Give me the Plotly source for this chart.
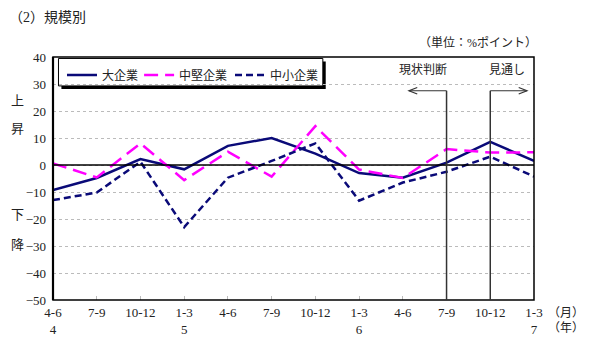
import plotly.graph_objects as go

periods = ["4-6", "7-9", "10-12", "1-3", "4-6", "7-9", "10-12", "1-3", "4-6", "7-9", "10-12", "1-3"]
years = ["4", "", "", "5", "", "", "", "6", "", "", "", "7"]
large = [-9.3, -4.8, 2.2, -1.6, 7.1, 10.0, 4.2, -3.0, -4.7, 0.9, 8.6, 1.5]
midsize = [0.6, -4.6, 8.0, -5.6, 4.9, -4.3, 14.4, -1.7, -4.8, 5.9, 4.6, 4.7]
small = [-13.0, -10.2, 1.2, -23.0, -4.7, 1.5, 8.0, -13.2, -6.5, -2.5, 3.1, -4.3]
series_names = ["大企業", "中堅企業", "中小企業"]

FONT = "Liberation Serif, Noto Sans CJK JP"
NUMFONT = "Liberation Serif"
x = list(range(len(periods)))
ticktext = [p + "<br>" + y if y else p for p, y in zip(periods, years)]

fig = go.Figure()
fig.add_trace(go.Scatter(x=x, y=large, mode="lines", name=series_names[0], legend="legend",
                         line=dict(color="#0a0a78", width=2.5)))
fig.add_trace(go.Scatter(x=x, y=midsize, mode="lines", name=series_names[1], legend="legend2",
                         line=dict(color="#ff00ff", width=2.5, dash="14px,7px")))
fig.add_trace(go.Scatter(x=x, y=small, mode="lines", name=series_names[2], legend="legend3",
                         line=dict(color="#0a0a78", width=2.5, dash="7px,4px")))

shapes = []
shapes.append(dict(type="line", xref="x", yref="y", x0=0, x1=11, y0=0, y1=0,
                   line=dict(color="black", width=1.5), layer="above"))
shapes.append(dict(type="rect", xref="paper", yref="paper", x0=0, x1=1, y0=0, y1=1,
                   line=dict(color="black", width=1.5)))
shapes.append(dict(type="line", xref="paper", yref="paper", x0=0, x1=0, y0=0, y1=1,
                   line=dict(color="black", width=2.2)))
for xi in (9, 10):
    shapes.append(dict(type="line", xref="x", yref="y", x0=xi, x1=xi, y0=-50, y1=27.5,
                       line=dict(color="#333333", width=1.5), layer="above"))
ay = 27.5
shapes.append(dict(type="line", xref="x", yref="y", x0=9, x1=8.14, y0=ay, y1=ay,
                   line=dict(color="#333333", width=1.2)))
shapes.append(dict(type="path", xref="x", yref="y",
                   path=f"M 8.33 {ay+1.2} L 8.14 {ay} L 8.33 {ay-1.2}",
                   line=dict(color="#333333", width=1.2)))
shapes.append(dict(type="line", xref="x", yref="y", x0=10, x1=10.84, y0=ay, y1=ay,
                   line=dict(color="#333333", width=1.2)))
shapes.append(dict(type="path", xref="x", yref="y",
                   path=f"M 10.65 {ay+1.2} L 10.84 {ay} L 10.65 {ay-1.2}",
                   line=dict(color="#333333", width=1.2)))
# legend box with shadow
shapes.append(dict(type="rect", xref="paper", yref="paper", x0=0.0175, x1=0.567, y0=0.868, y1=0.981,
                   fillcolor="black", line=dict(width=0), layer="below"))
shapes.append(dict(type="rect", xref="paper", yref="paper", x0=0.0114, x1=0.561, y0=0.881, y1=0.994,
                   fillcolor="white", line=dict(color="black", width=1), layer="below"))

annotations = [
    dict(text="（2）規模別", xref="paper", yref="paper", x=-0.095, y=1.163, xanchor="left", yanchor="middle",
         showarrow=False, font=dict(size=14, family=FONT, color="#222")),
    dict(text="（単位：%ポイント）", xref="paper", yref="paper", x=1.01, y=1.058, xanchor="right", yanchor="middle",
         showarrow=False, font=dict(size=12, family=FONT, color="#222")),
    dict(text="現状判断", xref="x", yref="y", x=8.46, y=35.2, xanchor="center", yanchor="middle",
         showarrow=False, font=dict(size=12, family=FONT, color="#222")),
    dict(text="見通し", xref="x", yref="y", x=10.38, y=35.2, xanchor="center", yanchor="middle",
         showarrow=False, font=dict(size=12, family=FONT, color="#222")),
    dict(text="（月）", xref="paper", yref="paper", x=1.025, y=-0.053, xanchor="left", yanchor="middle",
         showarrow=False, font=dict(size=12, family=FONT, color="#222")),
    dict(text="（年）", xref="paper", yref="paper", x=1.025, y=-0.115, xanchor="left", yanchor="middle",
         showarrow=False, font=dict(size=12, family=FONT, color="#222")),
]
for ch, yv in (("上", 24.0), ("昇", 13.7), ("下", -18.5), ("降", -29.6)):
    annotations.append(dict(text=ch, xref="paper", yref="y", x=-0.073, y=yv, xanchor="center",
                            yanchor="middle", showarrow=False,
                            font=dict(size=13, family=FONT, color="#222")))

def leg(xp):
    return dict(orientation="h", x=xp, y=0.986, xanchor="left", yanchor="top",
                bgcolor="rgba(0,0,0,0)", borderwidth=0, font=dict(size=12, family=FONT))

fig.update_layout(
    width=591, height=357,
    margin=dict(l=53, r=57, t=57, b=57),
    paper_bgcolor="white", plot_bgcolor="white",
    font=dict(family=FONT, size=12, color="#222"),
    showlegend=True,
    legend=leg(0.0187), legend2=leg(0.179), legend3=leg(0.368),
    xaxis=dict(range=[0, 11], tickmode="array", tickvals=x, ticktext=ticktext,
               showgrid=False, zeroline=False, ticks="inside", ticklen=4, tickcolor="#bbb",
               showline=False, tickfont=dict(size=13, family=NUMFONT), ticklabelstandoff=3),
    yaxis=dict(range=[-50, 40], tickmode="array", tickvals=list(range(-50, 41, 10)),
               ticktext=[str(v).replace("-", "−") for v in range(-50, 41, 10)],
               showgrid=True, gridcolor="#bbbbbb", griddash="dot", gridwidth=1,
               zeroline=False, ticks="", showline=False, tickfont=dict(size=13, family=NUMFONT),
               ticklabelstandoff=6),
    shapes=shapes, annotations=annotations,
)

fig.write_html("out.html", config={"displayModeBar": False},
               post_script="document.body.style.margin='0';")
